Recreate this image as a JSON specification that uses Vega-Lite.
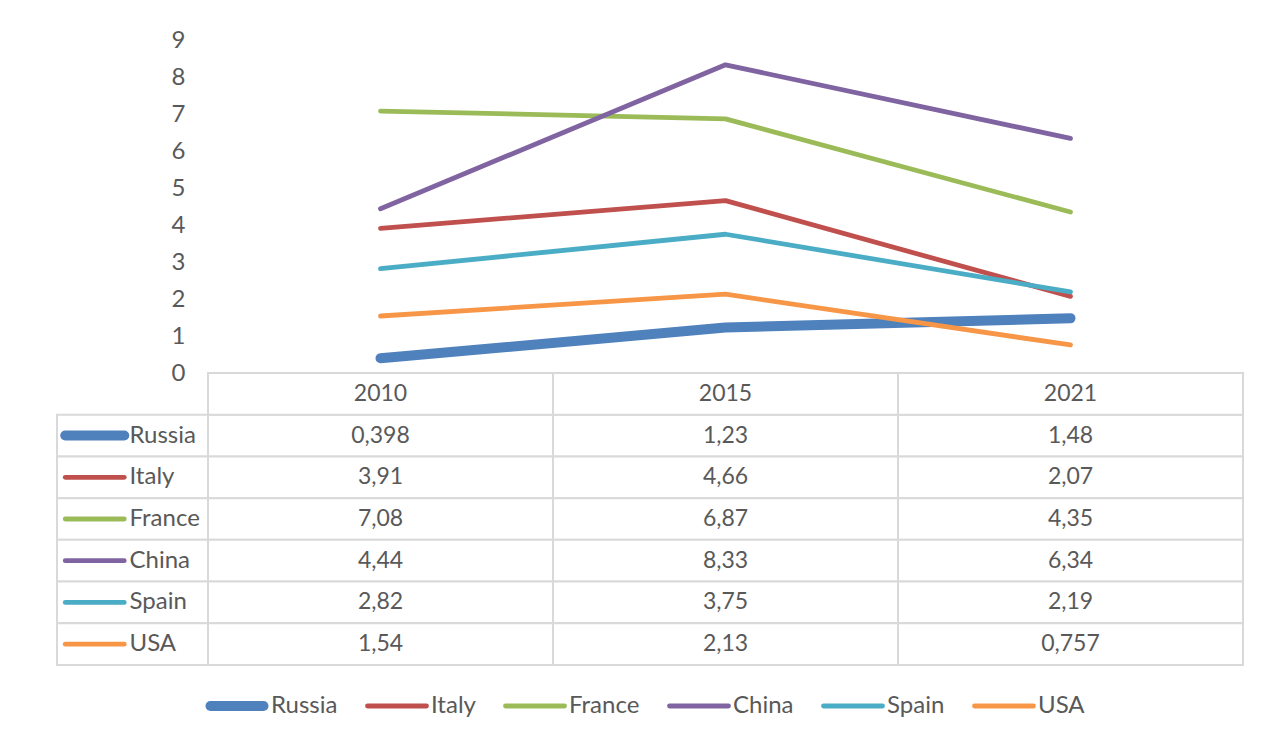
{
  "$schema": "https://vega.github.io/schema/vega-lite/v6.json",
  "background": "white",
  "padding": {"left": 45, "top": 28, "right": 19, "bottom": 10},
  "bounds": "flush",
  "spacing": 0,
  "config": {
    "font": "Lato",
    "view": {"stroke": null},
    "locale": {"number": {"decimal": ",", "thousands": " ", "grouping": [3], "currency": ["", ""]}}
  },
  "datasets": {
    "vals": [
      {"country": "Russia", "year": "2010", "value": 0.398},
      {"country": "Russia", "year": "2015", "value": 1.23},
      {"country": "Russia", "year": "2021", "value": 1.48},
      {"country": "Italy", "year": "2010", "value": 3.91},
      {"country": "Italy", "year": "2015", "value": 4.66},
      {"country": "Italy", "year": "2021", "value": 2.07},
      {"country": "France", "year": "2010", "value": 7.08},
      {"country": "France", "year": "2015", "value": 6.87},
      {"country": "France", "year": "2021", "value": 4.35},
      {"country": "China", "year": "2010", "value": 4.44},
      {"country": "China", "year": "2015", "value": 8.33},
      {"country": "China", "year": "2021", "value": 6.34},
      {"country": "Spain", "year": "2010", "value": 2.82},
      {"country": "Spain", "year": "2015", "value": 3.75},
      {"country": "Spain", "year": "2021", "value": 2.19},
      {"country": "USA", "year": "2010", "value": 1.54},
      {"country": "USA", "year": "2015", "value": 2.13},
      {"country": "USA", "year": "2021", "value": 0.757}
    ],
    "countries": [
      {"country": "Russia"}, {"country": "Italy"}, {"country": "France"},
      {"country": "China"}, {"country": "Spain"}, {"country": "USA"}
    ],
    "years": [{"year": "2010"}, {"year": "2015"}, {"year": "2021"}]
  },
  "hconcat": [
    {
      "width": 151,
      "height": 625,
      "data": {"name": "countries"},
      "layer": [
        {
          "mark": {"type": "rect", "fill": "white", "stroke": "#d9d9d9", "strokeWidth": 2},
          "encoding": {
            "y": {"field": "country", "type": "nominal", "axis": null,
                  "scale": {"type": "band", "domain": ["header", "Russia", "Italy", "France", "China", "Spain", "USA"], "range": [333, 625], "paddingInner": 0, "paddingOuter": 0}}
          }
        },
        {
          "mark": {"type": "point", "shape": "stroke", "size": 3481, "strokeCap": "round", "opacity": 1, "filled": false},
          "encoding": {
            "x": {"datum": "swatch", "type": "nominal", "axis": null,
                  "scale": {"type": "band", "domain": ["swatch", "label"], "paddingInner": 0, "paddingOuter": 0}},
            "y": {"field": "country", "type": "nominal"},
            "color": {"field": "country", "type": "nominal",
                      "scale": {"domain": ["Russia", "Italy", "France", "China", "Spain", "USA"],
                                "range": ["#4F81BD", "#C0504D", "#9BBB59", "#8064A2", "#4BACC6", "#F79646"]}},
            "strokeWidth": {"condition": {"test": "datum.country === 'Russia'", "value": 10}, "value": 4.8}
          }
        },
        {
          "mark": {"type": "text", "align": "left", "dx": -3, "fontSize": 24, "fill": "#595959"},
          "encoding": {
            "x": {"datum": "label", "type": "nominal", "bandPosition": 0},
            "y": {"field": "country", "type": "nominal"},
            "text": {"field": "country"}
          }
        }
      ]
    },
    {
      "width": 1035,
      "height": 625,
      "layer": [
        {
          "data": {"name": "vals"},
          "mark": {"type": "rect", "fill": "white", "stroke": "#d9d9d9", "strokeWidth": 2},
          "encoding": {
            "x": {"field": "year", "type": "ordinal", "axis": null,
                  "scale": {"type": "band", "paddingInner": 0, "paddingOuter": 0}},
            "y": {"field": "country", "type": "nominal", "axis": null,
                  "scale": {"type": "band", "domain": ["header", "Russia", "Italy", "France", "China", "Spain", "USA"], "range": [333, 625], "paddingInner": 0, "paddingOuter": 0}}
          }
        },
        {
          "data": {"name": "years"},
          "mark": {"type": "rect", "fill": "white", "stroke": "#d9d9d9", "strokeWidth": 2},
          "encoding": {
            "x": {"field": "year", "type": "ordinal"},
            "y": {"datum": "header", "type": "nominal", "axis": null,
                  "scale": {"type": "band", "domain": ["header", "Russia", "Italy", "France", "China", "Spain", "USA"], "range": [333, 625], "paddingInner": 0, "paddingOuter": 0}}
          }
        },
        {
          "data": {"name": "years"},
          "mark": {"type": "text", "fontSize": 23, "fill": "#595959"},
          "encoding": {
            "x": {"field": "year", "type": "ordinal"},
            "y": {"datum": "header", "type": "nominal", "axis": null,
                  "scale": {"type": "band", "domain": ["header", "Russia", "Italy", "France", "China", "Spain", "USA"], "range": [333, 625], "paddingInner": 0, "paddingOuter": 0}},
            "text": {"field": "year"}
          }
        },
        {
          "data": {"name": "vals"},
          "mark": {"type": "text", "fontSize": 23, "fill": "#595959"},
          "encoding": {
            "x": {"field": "year", "type": "ordinal"},
            "y": {"field": "country", "type": "nominal", "axis": null,
                  "scale": {"type": "band", "domain": ["header", "Russia", "Italy", "France", "China", "Spain", "USA"], "range": [333, 625], "paddingInner": 0, "paddingOuter": 0}},
            "text": {"field": "value", "type": "quantitative", "format": ".3~r"}
          }
        },
        {
          "data": {"name": "vals"},
          "mark": {"type": "line", "strokeCap": "round", "strokeJoin": "round"},
          "encoding": {
            "x": {"field": "year", "type": "ordinal"},
            "y": {"field": "value", "type": "quantitative",
                  "scale": {"domain": [0, 9], "range": [333, 0], "nice": false, "zero": false},
                  "axis": {"values": [0, 1, 2, 3, 4, 5, 6, 7, 8, 9], "title": null, "domain": false, "ticks": false, "grid": false,
                           "labelFontSize": 24, "labelColor": "#595959", "labelPadding": 23, "labelFlush": false, "labelOverlap": false}},
            "color": {"field": "country", "type": "nominal",
                      "scale": {"domain": ["Russia", "Italy", "France", "China", "Spain", "USA"],
                                "range": ["#4F81BD", "#C0504D", "#9BBB59", "#8064A2", "#4BACC6", "#F79646"]},
                      "legend": {"title": null, "orient": "none", "legendX": 148, "legendY": 651, "direction": "horizontal", "columns": 6,
                                 "symbolType": "stroke", "symbolSize": 3481, "symbolStrokeWidth": 4.8, "clipHeight": 30,
                                 "labelFontSize": 24, "labelColor": "#595959", "labelOffset": 2, "columnPadding": 27, "labelLimit": 300,
                                 "encode": {"symbols": {"update": {
                                   "strokeWidth": {"signal": "(datum.value === 'Russia' ? 10 : 4.8)"},
                                   "size": {"signal": "(datum.value === 'Russia' ? 2809 : 3481)"},
                                   "strokeCap": {"value": "round"}}}}}},
            "strokeWidth": {"condition": {"test": "datum.country === 'Russia'", "value": 10}, "value": 4.8}
          }
        }
      ],
      "resolve": {"scale": {"y": "independent"}, "axis": {"y": "independent"}}
    }
  ]
}
